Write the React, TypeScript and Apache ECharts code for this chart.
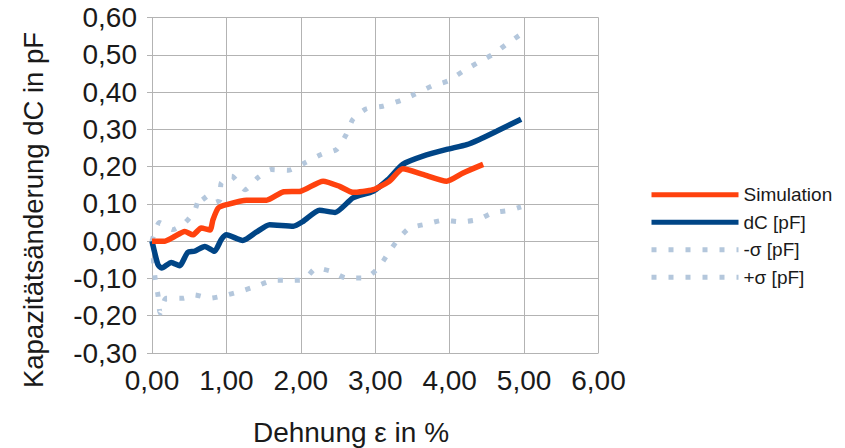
import React, { useEffect, useRef } from "react";
import * as echarts from "echarts";

const simX = [0, 0.17, 0.28, 0.44, 0.55, 0.66, 0.78, 0.82, 0.89, 1.0, 1.27, 1.54, 1.76, 2.0, 2.3, 2.52, 2.7, 2.97, 3.19, 3.37, 3.64, 3.96, 4.18, 4.45];
const simY = [0, 0, 0.01, 0.026, 0.017, 0.035, 0.03, 0.058, 0.089, 0.098, 0.11, 0.11, 0.132, 0.134, 0.161, 0.147, 0.131, 0.138, 0.161, 0.194, 0.179, 0.161, 0.183, 0.206];

const dcX = [0, 0.08, 0.13, 0.26, 0.37, 0.48, 0.57, 0.71, 0.84, 0.93, 1.0, 1.22, 1.4, 1.58, 1.9, 2.03, 2.25, 2.46, 2.7, 2.97, 3.17, 3.37, 3.64, 3.96, 4.23, 4.4, 4.63, 4.96];
const dcY = [0, -0.063, -0.072, -0.057, -0.066, -0.03, -0.027, -0.014, -0.027, 0.004, 0.017, 0.002, 0.024, 0.044, 0.04, 0.053, 0.083, 0.077, 0.116, 0.134, 0.165, 0.206, 0.228, 0.246, 0.259, 0.273, 0.295, 0.327];

const minusX = [0, 0.04, 0.08, 0.11, 0.19, 0.42, 0.57, 0.78, 0.95, 1.18, 1.4, 1.63, 1.83, 2.03, 2.21, 2.41, 2.61, 2.86, 3.04, 3.17, 3.31, 3.46, 3.69, 3.91, 4.16, 4.38, 4.58, 4.81, 4.96];
const minusY = [0, -0.097, -0.144, -0.193, -0.153, -0.153, -0.144, -0.153, -0.147, -0.135, -0.121, -0.105, -0.105, -0.104, -0.072, -0.081, -0.099, -0.099, -0.072, -0.034, 0.006, 0.035, 0.046, 0.056, 0.052, 0.058, 0.076, 0.083, 0.092];

const plusX = [0, 0.1, 0.28, 0.44, 0.57, 0.66, 0.78, 0.91, 0.93, 1.07, 1.25, 1.42, 1.6, 1.83, 2.05, 2.28, 2.48, 2.61, 2.7, 2.88, 3.1, 3.35, 3.53, 3.76, 3.98, 4.18, 4.38, 4.58, 4.76, 4.96];
const plusY = [0, 0.05, 0.031, 0.049, 0.08, 0.125, 0.1, 0.11, 0.156, 0.174, 0.138, 0.17, 0.192, 0.19, 0.21, 0.233, 0.246, 0.286, 0.327, 0.355, 0.362, 0.378, 0.394, 0.416, 0.43, 0.456, 0.479, 0.501, 0.528, 0.555];

const seriesNames = ["Simulation", "dC [pF]", "-σ [pF]", "+σ [pF]"];
const xAxisTitle = "Dehnung ε in %";
const yAxisTitle = "Kapazitätsänderung dC in pF";

const pairs = (xs: number[], ys: number[]) => xs.map((x, i) => [x, ys[i]]);
const fmt = (v: number) => v.toFixed(2).replace(".", ",").replace("-0,00", "0,00");

export default function App() {
  const ref = useRef<HTMLDivElement>(null);
  useEffect(() => {
    if (!ref.current) return;
    const chart = echarts.init(ref.current, null, { renderer: "svg" });
    const font = "'Liberation Sans', Arial, sans-serif";
    const gridColor = "#b3b3b3";
    const textColor = "#1a1a1a";
    const dotStyle = { color: "#b4c7dc", width: 5, type: [5, 12] as any, cap: "butt" as const };
    chart.setOption({
      animation: false,
      textStyle: { fontFamily: font },
      grid: { left: 152, right: 246.5, top: 17.5, bottom: 95, containLabel: false },
      graphic: [
        {
          type: "text",
          x: 351,
          y: 432,
          style: {
            text: xAxisTitle,
            font: `28px ${font}`,
            fill: textColor,
            align: "center",
            verticalAlign: "middle",
          },
        },
        {
          type: "text",
          x: 33,
          y: 210,
          rotation: Math.PI / 2,
          style: {
            text: yAxisTitle,
            font: `27.5px ${font}`,
            fill: textColor,
            align: "center",
            verticalAlign: "middle",
          },
        },
      ],
      legend: {
        orient: "vertical",
        left: 649,
        top: 181,
        itemWidth: 87,
        itemHeight: 14,
        itemGap: 0,
        padding: 0,
        data: seriesNames,
        itemStyle: { opacity: 0 },
        lineStyle: { width: 5 },
        textStyle: { fontFamily: font, fontSize: 19, color: textColor, lineHeight: 27.5, padding: [0, 0, 0, 0] },
      },
      xAxis: {
        type: "value",
        min: 0,
        max: 6,
        interval: 1,
        axisLine: { show: true, lineStyle: { color: gridColor } },
        axisTick: { show: true, inside: false, length: 5, lineStyle: { color: gridColor } },
        splitLine: { show: true, lineStyle: { color: gridColor, width: 1 } },
        axisLabel: { fontFamily: font, fontSize: 28, color: textColor, margin: 13, formatter: fmt },
      },
      yAxis: {
        type: "value",
        min: -0.3,
        max: 0.6,
        interval: 0.1,
        axisLine: { show: true, onZero: false, lineStyle: { color: gridColor } },
        axisTick: { show: true, inside: false, length: 5, lineStyle: { color: gridColor } },
        splitLine: { show: true, lineStyle: { color: gridColor, width: 1 } },
        axisLabel: { fontFamily: font, fontSize: 28, color: textColor, margin: 15, formatter: fmt },
      },
      series: [
        {
          name: "+σ [pF]",
          type: "line",
          data: pairs(plusX, plusY),
          symbol: "none",
          smooth: 0.2,
          lineStyle: dotStyle,
          itemStyle: { color: "#b4c7dc" },
        },
        {
          name: "-σ [pF]",
          type: "line",
          data: pairs(minusX, minusY),
          symbol: "none",
          smooth: 0.2,
          lineStyle: dotStyle,
          itemStyle: { color: "#b4c7dc" },
        },
        {
          name: "dC [pF]",
          type: "line",
          data: pairs(dcX, dcY),
          symbol: "none",
          smooth: 0.2,
          lineStyle: { color: "#004586", width: 5.5 },
          itemStyle: { color: "#004586" },
        },
        {
          name: "Simulation",
          type: "line",
          data: pairs(simX, simY),
          symbol: "none",
          smooth: 0.2,
          lineStyle: { color: "#ff420e", width: 5.5 },
          itemStyle: { color: "#ff420e" },
        },
      ],
    });
    return () => chart.dispose();
  }, []);
  return (
    <div
      ref={ref}
      style={{ position: "fixed", left: 0, top: 0, width: 845, height: 448, background: "#fff" }}
    />
  );
}
